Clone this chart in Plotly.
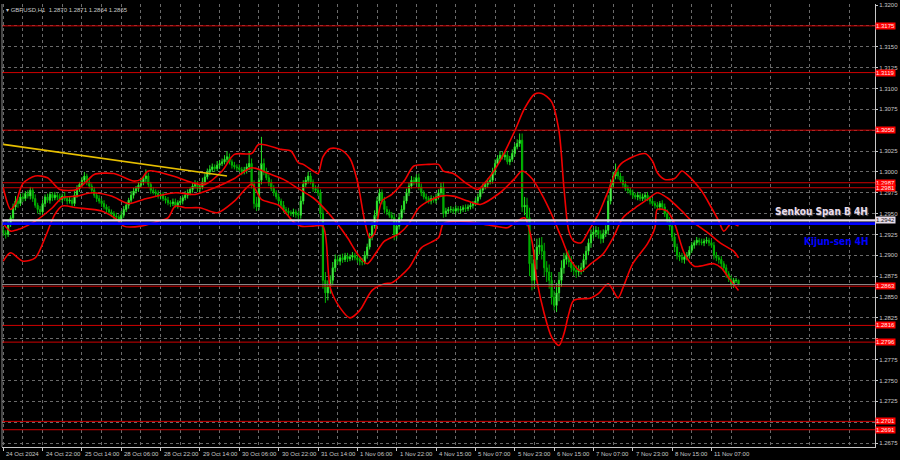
import plotly.graph_objects as go

# ---------------- data ----------------
symbol_title = "\u25be GBPUSD,H1  1.2870 1.2871 1.2864 1.2865"

first_open = 1.2930
closes = [
    1.2927, 1.2925, 1.2938, 1.2945, 1.2958, 1.2965, 1.2962, 1.2970, 1.2968, 1.2974,
    1.2971, 1.2978, 1.2968, 1.2960, 1.2955, 1.2952, 1.2962, 1.2970, 1.2966, 1.2973,
    1.2969, 1.2972, 1.2970, 1.2967, 1.2971, 1.2968, 1.2965, 1.2966, 1.2962, 1.2972,
    1.2980, 1.2985, 1.2990, 1.2995, 1.2988, 1.2983, 1.2978, 1.2972, 1.2968, 1.2965,
    1.2962, 1.2958, 1.2955, 1.2952, 1.2950, 1.2947, 1.2946, 1.2943, 1.2948, 1.2955,
    1.2960, 1.2966, 1.2972, 1.2977, 1.2980, 1.2984, 1.2988, 1.2992, 1.2995, 1.2985,
    1.2978, 1.2976, 1.2974, 1.2971, 1.2972, 1.2968, 1.2966, 1.2963, 1.2962, 1.2964,
    1.2960, 1.2963, 1.2965, 1.2969, 1.2972, 1.2975, 1.2979, 1.2983, 1.2985, 1.2980,
    1.2982, 1.2988, 1.2994, 1.3000, 1.3003, 1.3006, 1.3004, 1.3008, 1.3010, 1.3012,
    1.3015, 1.3018, 1.3012, 1.3008, 1.3006, 1.3005, 1.3003, 1.3000, 1.3002, 1.3006,
    1.3010, 1.2985, 1.2962, 1.2958, 1.2990, 1.3010, 1.3000, 1.2993, 1.2987, 1.2980,
    1.2975, 1.2970, 1.2965, 1.2960, 1.2955, 1.2953, 1.2951, 1.2950, 1.2952, 1.2949,
    1.2948, 1.2965, 1.2985, 1.2990, 1.2995, 1.2988, 1.2980, 1.2978, 1.2975, 1.2950,
    1.2870, 1.2855, 1.2862, 1.2870, 1.2885, 1.2895, 1.2893, 1.2897, 1.2895, 1.2899,
    1.2896, 1.2898, 1.2900, 1.2897, 1.2895, 1.2893, 1.2892, 1.2900, 1.2910, 1.2922,
    1.2935, 1.2948, 1.2965, 1.2975, 1.2965, 1.2955, 1.2952, 1.2948, 1.2945, 1.2925,
    1.2935, 1.2945, 1.2955, 1.2965, 1.2975, 1.2983, 1.2990, 1.2988, 1.2993, 1.2982,
    1.2975, 1.2970, 1.2968, 1.2965, 1.2968, 1.2966, 1.2970, 1.2975, 1.2982, 1.2950,
    1.2953, 1.2955, 1.2955, 1.2953, 1.2956, 1.2954, 1.2955, 1.2957, 1.2956, 1.2958,
    1.2960, 1.2962, 1.2965, 1.2970, 1.2978, 1.2982, 1.2985, 1.2988, 1.2990, 1.3000,
    1.3010, 1.3016, 1.3020, 1.3018, 1.3020, 1.3012, 1.3015, 1.3022, 1.3030, 1.3034,
    1.3038, 1.2958, 1.2960, 1.2945, 1.2890, 1.2870, 1.2895, 1.2910, 1.2912, 1.2905,
    1.2885, 1.2880, 1.2870, 1.2850, 1.2840, 1.2855, 1.2870, 1.2885, 1.2895, 1.2900,
    1.2892, 1.2885, 1.2882, 1.2880, 1.2883, 1.2885, 1.2895, 1.2905, 1.2915, 1.2925,
    1.2928, 1.2930, 1.2925, 1.2920, 1.2926, 1.2930, 1.2965, 1.2985, 1.2995, 1.3000,
    1.2995, 1.2990, 1.2985, 1.2980, 1.2978, 1.2975, 1.2972, 1.2970, 1.2972, 1.2968,
    1.2970, 1.2972, 1.2968, 1.2965, 1.2962, 1.2960, 1.2958, 1.2962, 1.2958, 1.2950,
    1.2942, 1.2935, 1.2922, 1.2910, 1.2900, 1.2898, 1.2895, 1.2898, 1.2900, 1.2906,
    1.2912, 1.2915, 1.2918, 1.2916, 1.2915, 1.2917, 1.2918, 1.2915, 1.2912, 1.2900,
    1.2897, 1.2895, 1.2890, 1.2885, 1.2878, 1.2872, 1.2865, 1.2870, 1.2870, 1.2865,
]

# upper / lower shadow lengths in pips
wick_up = [
    4, 3, 5, 3, 4, 6, 3, 4, 5, 3,   4, 4, 3, 5, 3, 4, 5, 3, 4, 3,
    3, 4, 3, 4, 3, 5, 3, 4, 3, 5,   4, 3, 4, 5, 3, 4, 3, 4, 3, 4,
    3, 4, 3, 4, 3, 3, 4, 3, 5, 4,   4, 3, 5, 4, 3, 4, 5, 3, 8, 4,
    3, 4, 3, 4, 3, 4, 3, 4, 3, 4,   4, 3, 4, 3, 5, 4, 3, 4, 5, 4,
    4, 5, 4, 4, 5, 4, 3, 5, 4, 4,   5, 7, 4, 3, 4, 3, 4, 3, 4, 4,
    15, 6, 5, 8, 12, 32, 6, 5, 4, 4,  4, 3, 4, 3, 5, 3, 4, 3, 4, 3,
    4, 6, 5, 4, 5, 4, 3, 4, 5, 4,   8, 10, 8, 6, 7, 6, 5, 4, 5, 4,
    4, 3, 4, 3, 4, 3, 4, 5, 4, 5,   5, 6, 5, 5, 4, 5, 4, 3, 4, 5,
    6, 5, 5, 6, 5, 4, 5, 4, 4, 5,   4, 3, 4, 3, 4, 3, 4, 4, 5, 6,
    4, 3, 4, 3, 4, 3, 4, 3, 4, 3,   4, 3, 4, 4, 3, 4, 3, 4, 4, 5,
    5, 4, 5, 4, 4, 5, 4, 5, 4, 5,   8, 8, 10, 9, 12, 10, 12, 10, 9, 10,
    10, 8, 9, 10, 8, 12, 10, 9, 8, 7,  6, 7, 5, 6, 5, 6, 7, 6, 5, 6,
    5, 5, 4, 5, 5, 6, 7, 6, 5, 10,  5, 4, 5, 4, 4, 3, 4, 3, 4, 3,
    4, 3, 4, 3, 4, 3, 4, 3, 4, 4,   5, 4, 5, 5, 4, 4, 5, 4, 4, 5,
    4, 3, 4, 3, 4, 3, 4, 3, 4, 4,   4, 3, 4, 3, 4, 3, 4, 3, 3, 1,
]
wick_dn = [
    4, 5, 3, 4, 3, 4, 5, 3, 4, 3,   3, 4, 4, 3, 5, 4, 3, 4, 3, 4,
    4, 3, 4, 3, 4, 3, 4, 3, 4, 3,   3, 4, 3, 4, 4, 3, 4, 3, 4, 3,
    4, 3, 4, 3, 4, 4, 3, 5, 4, 3,   3, 4, 3, 4, 3, 4, 3, 4, 4, 3,
    4, 3, 4, 3, 4, 3, 4, 3, 4, 3,   3, 4, 3, 4, 3, 4, 3, 4, 3, 4,
    4, 3, 4, 3, 4, 3, 4, 3, 4, 3,   3, 4, 3, 4, 3, 4, 3, 4, 3, 4,
    4, 5, 6, 5, 4, 5, 4, 3, 4, 3,   4, 3, 4, 3, 4, 3, 4, 3, 4, 4,
    5, 4, 4, 3, 4, 3, 4, 3, 4, 6,   10, 12, 9, 8, 6, 5, 4, 5, 4, 3,
    4, 3, 4, 3, 4, 5, 4, 3, 4, 3,   4, 3, 4, 3, 4, 5, 4, 3, 4, 7,
    5, 4, 3, 4, 3, 4, 3, 4, 3, 4,   4, 3, 4, 3, 4, 3, 4, 3, 4, 5,
    4, 3, 4, 3, 4, 3, 4, 3, 4, 3,   3, 4, 3, 4, 3, 4, 3, 4, 3, 4,
    4, 3, 4, 3, 4, 3, 4, 3, 4, 3,   4, 6, 10, 10, 15, 12, 10, 12, 9, 10,
    10, 12, 10, 9, 6, 8, 10, 8, 7, 6,  6, 5, 6, 7, 5, 6, 5, 6, 5, 6,
    5, 6, 5, 6, 5, 4, 5, 4, 5, 4,   4, 3, 4, 3, 4, 3, 4, 3, 4, 3,
    3, 4, 3, 4, 3, 4, 3, 4, 3, 4,   4, 5, 5, 6, 5, 5, 4, 5, 4, 4,
    3, 4, 3, 4, 3, 4, 3, 4, 3, 5,   4, 5, 4, 3, 5, 4, 3, 4, 3, 1,
]

# Bollinger bands (bar index, price)
bb_upper_idx = [0, 3, 5, 8, 13, 18, 23, 30, 35, 37, 45, 53, 56, 59, 69, 78, 82, 89, 94, 101,
                104, 113, 117, 120, 122, 126, 128, 130, 133, 137, 141, 144, 147, 149, 151, 154,
                158, 163, 167, 173, 177, 179, 183, 189, 193, 197, 202, 208, 212, 216, 219, 223,
                226, 228, 230, 232, 235, 238, 242, 246, 251, 261, 264, 266, 269, 273, 276, 278,
                284, 288, 291, 293, 296, 299]
bb_upper = [1.2981, 1.2955, 1.2962, 1.2986, 1.2995, 1.2993, 1.2979, 1.2979, 1.2992, 1.2997,
            1.2998, 1.2989, 1.2991, 1.3001, 1.2995, 1.2986, 1.2985, 1.3001, 1.3021, 1.3022,
            1.3033, 1.3027, 1.3025, 1.3011, 1.3009, 1.3001, 1.2998, 1.3018, 1.3028, 1.3027,
            1.3016, 1.2989, 1.2941, 1.2921, 1.2926, 1.2965, 1.2973, 1.2989, 1.3007, 1.3009,
            1.3009, 1.3001, 1.2998, 1.2985, 1.2979, 1.2991, 1.3013, 1.3049, 1.3076, 1.3093,
            1.3094, 1.3084, 1.3049, 1.2981, 1.2929, 1.2917, 1.2915, 1.2929, 1.2949, 1.2977,
            1.3009, 1.3022, 1.3013, 1.2999, 1.2991, 1.2992, 1.3001, 1.2997, 1.2977, 1.2957,
            1.2941, 1.2929, 1.2938, 1.2935]
bb_mid_idx = [0, 3, 7, 13, 20, 24, 30, 36, 44, 51, 57, 70, 78, 86, 94, 101, 108, 114, 120, 126,
              129, 135, 140, 144, 148, 152, 155, 161, 165, 169, 173, 178, 183, 189, 194, 202, 208,
              211, 215, 219, 223, 227, 231, 235, 239, 244, 248, 252, 257, 262, 266, 270, 276, 280,
              287, 292, 297, 299]
bb_mid = [1.2938, 1.2929, 1.2932, 1.2941, 1.2957, 1.2969, 1.2971, 1.2975, 1.2971, 1.2962,
          1.2967, 1.2975, 1.2973, 1.2981, 1.2992, 1.3005, 1.2998, 1.2991, 1.2980, 1.2969,
          1.2961, 1.2941, 1.2921, 1.2902, 1.2890, 1.2905, 1.2917, 1.2926, 1.2938, 1.2957,
          1.2965, 1.2971, 1.2971, 1.2965, 1.2961, 1.2975, 1.2992, 1.3001, 1.2992, 1.2973,
          1.2949, 1.2921, 1.2893, 1.2881, 1.2890, 1.2902, 1.2921, 1.2945, 1.2957, 1.2967,
          1.2975, 1.2969, 1.2953, 1.2941, 1.2926, 1.2914, 1.2905, 1.2897]
bb_lower_idx = [0, 3, 8, 13, 17, 21, 24, 30, 40, 47, 49, 56, 63, 67, 70, 74, 80, 87, 94, 101,
                105, 112, 118, 121, 126, 130, 133, 137, 141, 145, 150, 155, 158, 165, 170, 177,
                179, 186, 194, 200, 205, 209, 212, 215, 217, 220, 223, 226, 228, 230, 232, 239,
                242, 246, 250, 252, 256, 262, 265, 266, 270, 273, 277, 281, 289, 292, 295, 299]
bb_lower = [1.2893, 1.2903, 1.2893, 1.2897, 1.2921, 1.2949, 1.2959, 1.2957, 1.2953, 1.2941,
            1.2935, 1.2935, 1.2941, 1.2945, 1.2959, 1.2957, 1.2957, 1.2951, 1.2965, 1.2985,
            1.2967, 1.2960, 1.2940, 1.2935, 1.2935, 1.2935, 1.2861, 1.2837, 1.2825, 1.2834,
            1.2858, 1.2866, 1.2867, 1.2885, 1.2909, 1.2921, 1.2938, 1.2941, 1.2938, 1.2935,
            1.2933, 1.2941, 1.2945, 1.2917, 1.2870, 1.2830, 1.2802, 1.2792, 1.2806, 1.2830,
            1.2846, 1.2849, 1.2854, 1.2866, 1.2849, 1.2861, 1.2890, 1.2914, 1.2933, 1.2955,
            1.2953, 1.2938, 1.2902, 1.2887, 1.2890, 1.2885, 1.2873, 1.2858]

trend_idx = [0, 91]
trend_price = [1.3033, 1.2995]

level_prices = [1.3175, 1.3119, 1.3050, 1.2987, 1.2981, 1.2863, 1.2816, 1.2796, 1.2701, 1.2691]
senkou_b = 1.2942
kijun = 1.2938
bid_price = 1.2865

time_tick_idx = [0, 16, 32, 48, 64, 80, 96, 112, 128, 144, 160, 176, 192, 208, 224, 240, 256, 272, 288]
time_tick_labels = ["24 Oct 2024", "24 Oct 22:00", "25 Oct 14:00", "28 Oct 06:00", "28 Oct 22:00",
                    "29 Oct 14:00", "30 Oct 06:00", "30 Oct 22:00", "31 Oct 14:00", "1 Nov 06:00",
                    "1 Nov 22:00", "4 Nov 15:00", "5 Nov 07:00", "5 Nov 23:00", "6 Nov 15:00",
                    "7 Nov 07:00", "7 Nov 23:00", "8 Nov 15:00", "11 Nov 07:00"]
price_ticks = [1.2675, 1.2700, 1.2725, 1.2750, 1.2775, 1.2800, 1.2825, 1.2850, 1.2875, 1.2900,
               1.2925, 1.2950, 1.2975, 1.3000, 1.3025, 1.3050, 1.3075, 1.3100, 1.3125, 1.3150,
               1.3175, 1.3200]
# grid labels that the level boxes cover in the terminal
price_ticks_hidden = [1.2700, 1.2800, 1.3050, 1.3175]

# ---------------- build ----------------
n = len(closes)
idx = list(range(n))
opens = [first_open] + closes[:-1]
pip = 0.0001
highs = [max(o, c) + u * pip for o, c, u in zip(opens, closes, wick_up)]
lows = [min(o, c) - d * pip for o, c, d in zip(opens, closes, wick_dn)]

small_font = dict(family="Liberation Sans, Arial, sans-serif", size=6, color="#C8C8C8")
grid_col = "#6A6A6A"

fig = go.Figure()

for bx, by in [(bb_upper_idx, bb_upper), (bb_mid_idx, bb_mid), (bb_lower_idx, bb_lower)]:
    fig.add_trace(go.Scatter(x=bx, y=by, mode="lines",
                             line=dict(color="#F00000", width=1.6, shape="spline", smoothing=0.8),
                             hoverinfo="skip", showlegend=False))

fig.add_trace(go.Candlestick(
    x=idx, open=opens, high=highs, low=lows, close=closes,
    increasing=dict(line=dict(color="#22E022", width=1), fillcolor="#C8FFC8"),
    decreasing=dict(line=dict(color="#00B400", width=1), fillcolor="#00A000"),
    whiskerwidth=0, showlegend=False, hoverinfo="skip"))

fig.add_trace(go.Scatter(x=trend_idx, y=trend_price, mode="lines",
                         line=dict(color="#E8C000", width=1.6),
                         hoverinfo="skip", showlegend=False))

for p in level_prices:
    fig.add_hline(y=p, line=dict(color="#D00000", width=1))
fig.add_hline(y=bid_price, line=dict(color="#8C8C8C", width=1))
fig.add_hline(y=senkou_b, line=dict(color="#E6D8E6", width=2.2))
fig.add_hline(y=kijun, line=dict(color="#0000FF", width=2.6))

label_font = "Liberation Sans Narrow, DejaVu Sans Condensed, sans-serif"
annotations = []
for p in level_prices:
    annotations.append(dict(x=1, xref="paper", xanchor="left", xshift=0, y=p, yref="y",
                            text=f"{p:.4f}", showarrow=False, bgcolor="#FF0000", borderpad=0,
                            font=dict(family="Liberation Sans, Arial, sans-serif", size=6, color="#FFE8E8")))
annotations.append(dict(x=1, xref="paper", xanchor="left", y=senkou_b, yref="y",
                        text=f"{senkou_b:.4f}", showarrow=False, bgcolor="#E8DCE8", borderpad=0,
                        font=dict(family="Liberation Sans, Arial, sans-serif", size=6, color="#202020")))
annotations.append(dict(x=0.994, xref="paper", xanchor="right", y=senkou_b, yref="y", yanchor="bottom",
                        yshift=1, text="<b>Senkou Span B 4H</b>", showarrow=False,
                        font=dict(family=label_font, size=10, color="#EBDDEB",
                                  shadow="1px 1px 1px #555555")))
annotations.append(dict(x=0.994, xref="paper", xanchor="right", y=kijun, yref="y", yanchor="top",
                        yshift=-10, text="<b>Kijun-sen 4H</b>", showarrow=False,
                        font=dict(family=label_font, size=10, color="#0000FF")))
for ti, tl in zip(time_tick_idx, time_tick_labels):
    annotations.append(dict(x=ti, xref="x", xanchor="left", xshift=1, y=0, yref="paper",
                            yanchor="top", yshift=-2, text=tl, showarrow=False, font=small_font))
annotations.append(dict(x=0, xref="paper", xanchor="left", xshift=2, y=1, yref="paper", yanchor="top",
                        yshift=-1, text=symbol_title, showarrow=False, font=small_font))

fig.update_layout(
    width=900, height=460,
    margin=dict(l=2, r=25, t=2, b=13),
    paper_bgcolor="#000000", plot_bgcolor="#000000",
    showlegend=False,
    annotations=annotations,
    xaxis=dict(range=[-0.5, 354.5], rangeslider=dict(visible=False),
               tickmode="array", tickvals=time_tick_idx, ticktext=[""] * len(time_tick_idx),
               ticks="outside", ticklen=3, tickcolor="#C8C8C8",
               showgrid=True, gridcolor=grid_col, griddash="3px,3px", gridwidth=1,
               minor=dict(tickvals=list(range(8, 355, 16)), showgrid=True, gridcolor=grid_col,
                          griddash="3px,3px", ticks=""),
               showline=True, linecolor="#C8C8C8", linewidth=1, zeroline=False, fixedrange=True),
    yaxis=dict(range=[1.26703, 1.32012], side="right",
               tickmode="array", tickvals=price_ticks,
               ticktext=["" if v in price_ticks_hidden else f"{v:.4f}" for v in price_ticks],
               tickfont=small_font, ticks="outside", ticklen=2, tickcolor="#C8C8C8",
               showgrid=True, gridcolor=grid_col, griddash="3px,3px", gridwidth=1,
               showline=True, linecolor="#C8C8C8", linewidth=1, zeroline=False, fixedrange=True),
)

fig.add_shape(type="line", xref="paper", yref="paper", x0=0, x1=0, y0=0, y1=1,
              line=dict(color="#8C8C8C", width=1))

fig.write_html("out.html", config={"displayModeBar": False},
               post_script="document.body.style.margin='0';document.body.style.background='#000';"
                           "document.body.style.overflow='hidden';")
